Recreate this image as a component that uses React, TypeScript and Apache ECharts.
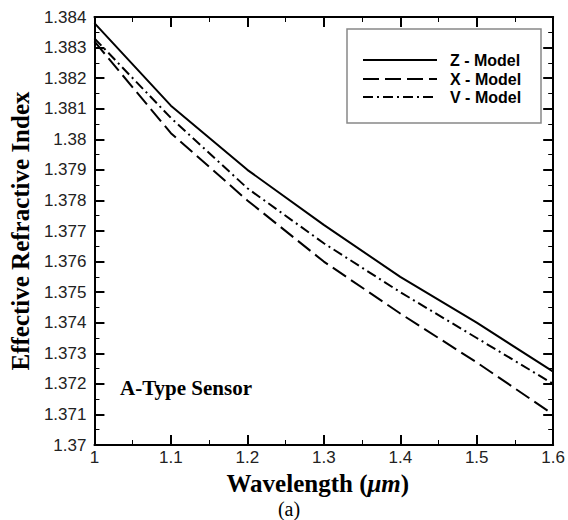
import React, { useEffect, useRef } from "react";
import * as echarts from "echarts";

const wavelengths = [1.0, 1.1, 1.2, 1.3, 1.4, 1.5, 1.6];
const zModel = [1.3838, 1.3811, 1.379, 1.3772, 1.3755, 1.374, 1.3724];
const xModel = [1.3832, 1.3802, 1.378, 1.376, 1.3743, 1.3727, 1.371];
const vModel = [1.3833, 1.3807, 1.3784, 1.3766, 1.375, 1.3735, 1.372];
const seriesNames = ["Z - Model", "X - Model", "V - Model"];

const SERIF = "'Liberation Serif', 'Times New Roman', serif";
const SANS = "'Liberation Sans', Arial, sans-serif";

const DASH_SOLID: number[] | null = null;
const DASH_X = [16, 6];
const DASH_V = [10, 4, 2, 4];

export default function App() {
  const ref = useRef<HTMLDivElement>(null);
  useEffect(() => {
    if (!ref.current) return;
    const chart = echarts.init(ref.current, undefined, { renderer: "svg" });
    const pair = (ys: number[]) => wavelengths.map((x, i) => [x, ys[i]]);
    const axisCommon = {
      axisLine: { show: true, onZero: false, lineStyle: { color: "#000", width: 2 } },
      axisTick: { show: true, inside: true, length: 10, lineStyle: { color: "#000", width: 2 } },
      minorTick: { show: true, splitNumber: 2, length: 5, lineStyle: { color: "#000", width: 1 } },
      splitLine: { show: false },
      minorSplitLine: { show: false },
    };
    const xBase = { type: "value", min: 1, max: 1.6, interval: 0.1, ...axisCommon };
    const yBase = { type: "value", min: 1.37, max: 1.384, interval: 0.001, ...axisCommon };
    const dashes = [DASH_SOLID, DASH_X, DASH_V];
    const legendRows = [60, 79, 97];
    const legendGraphics: any[] = [];
    seriesNames.forEach((name, i) => {
      legendGraphics.push({
        type: "line",
        shape: { x1: 363, y1: legendRows[i], x2: 437, y2: legendRows[i] },
        style: { stroke: "#000", lineWidth: 2, lineDash: dashes[i] || undefined },
        z: 10,
      });
      legendGraphics.push({
        type: "text",
        x: 450,
        y: legendRows[i],
        style: {
          text: name,
          fontFamily: SANS,
          fontWeight: "bold",
          fontSize: 16,
          fill: "#000",
          verticalAlign: "middle",
          align: "left",
        },
        z: 10,
      });
    });
    chart.setOption({
      animation: false,
      backgroundColor: "#fff",
      grid: { left: 88, right: 13, top: 17, bottom: 75, containLabel: false },
      xAxis: [
        {
          ...xBase,
          position: "bottom",
          axisLabel: { color: "#222", fontFamily: SANS, fontSize: 17, margin: 4 },
          name: "Wavelength ({i|μm})",
          nameLocation: "middle",
          nameGap: 17,
          nameTextStyle: {
            fontFamily: SERIF,
            fontWeight: "bold",
            fontSize: 25,
            color: "#000",
            padding: [0, 12, 0, 0],
            rich: {
              i: { fontFamily: SERIF, fontWeight: "bold", fontStyle: "italic", fontSize: 25, color: "#000" },
            },
          },
        },
        { ...xBase, position: "top", axisLabel: { show: false } },
      ],
      yAxis: [
        {
          ...yBase,
          position: "left",
          axisLabel: { color: "#222", fontFamily: SANS, fontSize: 17, margin: 8 },
          name: "Effective Refractive Index",
          nameLocation: "middle",
          nameRotate: 90,
          nameGap: 56,
          nameTextStyle: { fontFamily: SERIF, fontWeight: "bold", fontSize: 25, color: "#000" },
        },
        { ...yBase, position: "right", axisLabel: { show: false } },
      ],
      series: [
        {
          name: seriesNames[0],
          type: "line",
          data: pair(zModel),
          symbol: "none",
          lineStyle: { color: "#000", width: 2, type: "solid" },
        },
        {
          name: seriesNames[1],
          type: "line",
          data: pair(xModel),
          symbol: "none",
          lineStyle: { color: "#000", width: 2, type: DASH_X },
        },
        {
          name: seriesNames[2],
          type: "line",
          data: pair(vModel),
          symbol: "none",
          lineStyle: { color: "#000", width: 2, type: DASH_V },
        },
      ],
      graphic: [
        {
          type: "rect",
          shape: { x: 347, y: 29, width: 194, height: 94 },
          style: { fill: "#fff", stroke: "#888", lineWidth: 1.5 },
          z: 9,
        },
        ...legendGraphics,
        {
          type: "text",
          x: 120,
          y: 388,
          style: {
            text: "A-Type Sensor",
            fontFamily: SERIF,
            fontWeight: "bold",
            fontSize: 21,
            fill: "#000",
            verticalAlign: "middle",
            align: "left",
          },
        },
        {
          type: "text",
          x: 289,
          y: 509,
          style: {
            text: "(a)",
            fontFamily: SERIF,
            fontSize: 20,
            fill: "#000",
            verticalAlign: "middle",
            align: "center",
          },
        },
      ],
    });
    return () => chart.dispose();
  }, []);
  return (
    <div
      ref={ref}
      style={{ position: "fixed", left: 0, top: 0, width: 568, height: 520 }}
    />
  );
}
